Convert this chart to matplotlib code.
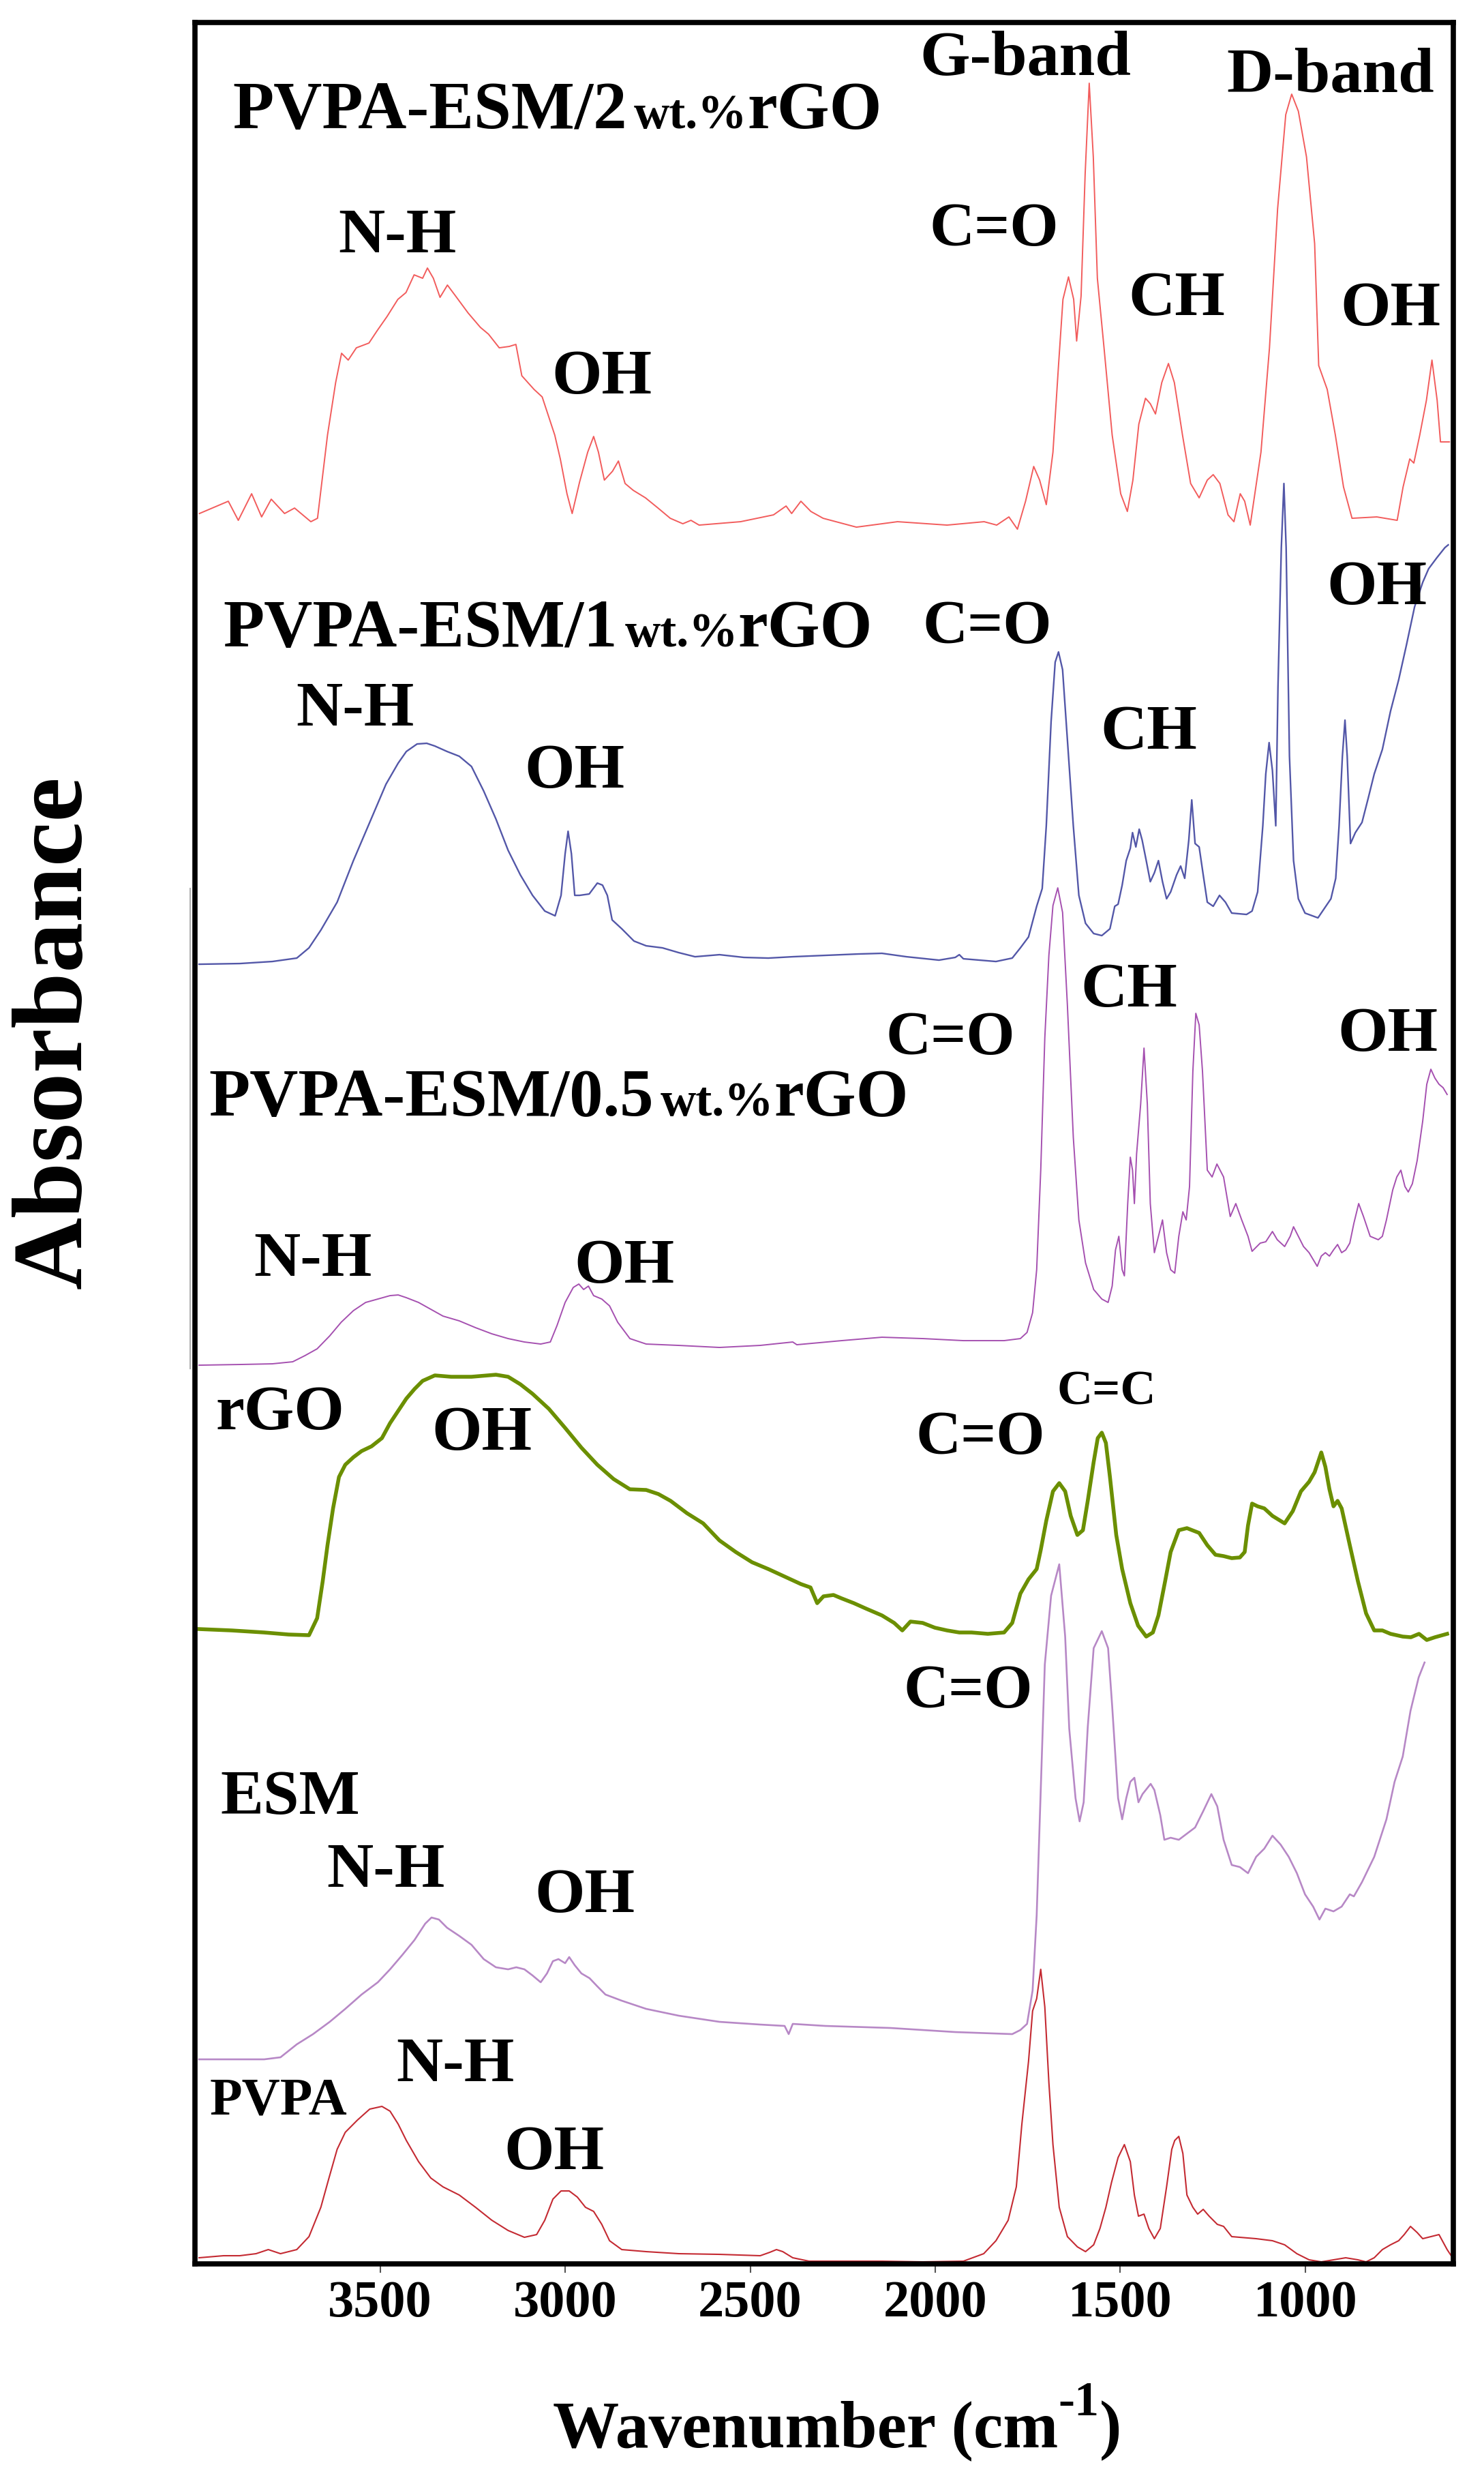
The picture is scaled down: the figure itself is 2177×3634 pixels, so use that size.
import numpy as np
import matplotlib
matplotlib.use("Agg")
import matplotlib.pyplot as plt

plt.rcParams['font.family'] = ['Liberation Serif', 'DejaVu Serif']
plt.rcParams['font.weight'] = 'bold'

# ---------------------------------------------------------------
# FTIR spectra: (wavenumber cm-1, stacked absorbance a.u.)
# ---------------------------------------------------------------
esm2_rgo = [(3988, 25.67), (3910, 25.85), (3883, 25.57), (3847, 25.96), (3820, 25.62), (3794, 25.88),
            (3758, 25.67), (3731, 25.75), (3687, 25.55), (3669, 25.60), (3642, 26.82), (3620, 27.59),
            (3604, 28.02), (3586, 27.92), (3564, 28.10), (3530, 28.17), (3508, 28.35), (3481, 28.56),
            (3452, 28.81), (3430, 28.91), (3408, 29.17), (3385, 29.12), (3372, 29.27), (3356, 29.12),
            (3338, 28.84), (3318, 29.02), (3296, 28.86), (3262, 28.61), (3229, 28.40), (3207, 28.30),
            (3178, 28.10), (3151, 28.12), (3133, 28.15), (3117, 27.69), (3084, 27.49), (3062, 27.38),
            (3028, 26.82), (3013, 26.47), (2995, 25.96), (2981, 25.67), (2961, 26.13), (2939, 26.57),
            (2923, 26.80), (2910, 26.57), (2894, 26.16), (2872, 26.29), (2856, 26.44), (2838, 26.11),
            (2816, 26.01), (2783, 25.90), (2749, 25.75), (2716, 25.60), (2682, 25.52), (2660, 25.57),
            (2638, 25.50), (2526, 25.55), (2437, 25.65), (2403, 25.78), (2388, 25.67), (2363, 25.85),
            (2336, 25.70), (2303, 25.60), (2213, 25.47), (2102, 25.55), (1968, 25.50), (1868, 25.55),
            (1834, 25.50), (1801, 25.62), (1778, 25.44), (1756, 25.85), (1734, 26.36), (1718, 26.16),
            (1700, 25.80), (1682, 26.57), (1667, 27.84), (1655, 28.81), (1640, 29.14), (1626, 28.81),
            (1618, 28.20), (1606, 28.86), (1595, 30.65), (1584, 31.98), (1573, 30.90), (1562, 29.12),
            (1544, 28.10), (1522, 26.82), (1499, 25.96), (1481, 25.70), (1466, 26.16), (1450, 26.98),
            (1432, 27.36), (1419, 27.28), (1405, 27.13), (1388, 27.59), (1370, 27.87), (1354, 27.59),
            (1332, 26.82), (1310, 26.11), (1287, 25.90), (1265, 26.16), (1249, 26.24), (1231, 26.11),
            (1209, 25.65), (1193, 25.55), (1176, 25.96), (1164, 25.85), (1149, 25.50), (1120, 26.57),
            (1097, 28.10), (1075, 30.14), (1053, 31.52), (1037, 31.82), (1019, 31.57), (997, 30.90),
            (975, 29.63), (964, 27.84), (941, 27.49), (919, 26.82), (897, 26.06), (874, 25.60),
            (807, 25.62), (752, 25.57), (736, 26.06), (718, 26.47), (707, 26.41), (691, 26.82),
            (673, 27.33), (658, 27.92), (644, 27.33), (635, 26.72), (611, 26.72)]

esm1_rgo = [(3989, 19.06), (3879, 19.07), (3791, 19.10), (3725, 19.15), (3692, 19.30), (3660, 19.56),
            (3616, 19.97), (3572, 20.58), (3528, 21.14), (3484, 21.70), (3451, 22.01), (3429, 22.18),
            (3400, 22.29), (3374, 22.30), (3352, 22.26), (3319, 22.18), (3286, 22.11), (3253, 21.96),
            (3220, 21.60), (3187, 21.19), (3154, 20.73), (3121, 20.37), (3088, 20.07), (3055, 19.84),
            (3027, 19.77), (3011, 20.07), (3000, 20.68), (2992, 21.01), (2983, 20.68), (2974, 20.07),
            (2961, 20.07), (2935, 20.09), (2913, 20.25), (2899, 20.22), (2886, 20.07), (2873, 19.71),
            (2847, 19.58), (2814, 19.40), (2781, 19.33), (2737, 19.30), (2693, 19.23), (2649, 19.17),
            (2583, 19.20), (2517, 19.16), (2451, 19.15), (2385, 19.17), (2297, 19.19), (2209, 19.21),
            (2144, 19.22), (2078, 19.17), (1990, 19.12), (1946, 19.16), (1935, 19.20), (1924, 19.14),
            (1836, 19.10), (1792, 19.15), (1770, 19.30), (1748, 19.46), (1726, 19.91), (1711, 20.17),
            (1700, 21.09), (1687, 22.62), (1676, 23.49), (1667, 23.64), (1656, 23.38), (1643, 22.36),
            (1627, 21.09), (1612, 20.07), (1594, 19.66), (1572, 19.51), (1550, 19.48), (1528, 19.58),
            (1515, 19.91), (1506, 19.94), (1495, 20.22), (1484, 20.58), (1473, 20.76), (1467, 20.99),
            (1458, 20.78), (1449, 21.04), (1441, 20.88), (1430, 20.58), (1419, 20.27), (1408, 20.40),
            (1397, 20.58), (1386, 20.27), (1375, 20.02), (1364, 20.12), (1348, 20.37), (1337, 20.50),
            (1326, 20.32), (1315, 20.88), (1307, 21.47), (1298, 20.83), (1287, 20.78), (1276, 20.37),
            (1265, 19.97), (1249, 19.91), (1232, 20.07), (1216, 19.97), (1199, 19.81), (1159, 19.79),
            (1144, 19.84), (1129, 20.12), (1115, 21.09), (1107, 21.85), (1098, 22.31), (1089, 21.90),
            (1080, 21.09), (1074, 23.13), (1065, 25.17), (1058, 26.11), (1052, 25.17), (1043, 22.11),
            (1032, 20.58), (1019, 20.02), (1001, 19.81), (966, 19.74), (951, 19.86), (931, 20.02),
            (918, 20.32), (909, 21.09), (900, 22.11), (893, 22.64), (887, 22.11), (878, 20.83),
            (865, 20.99), (847, 21.14), (830, 21.50), (814, 21.85), (792, 22.21), (770, 22.77),
            (748, 23.23), (727, 23.74), (705, 24.30), (683, 24.66), (667, 24.86), (645, 25.02),
            (623, 25.17), (614, 25.21)]

esm05_rgo = [(3989, 13.18), (3879, 13.19), (3791, 13.20), (3736, 13.23), (3703, 13.32), (3670, 13.42),
             (3636, 13.61), (3605, 13.81), (3572, 13.98), (3539, 14.10), (3506, 14.15), (3473, 14.20),
             (3451, 14.21), (3429, 14.17), (3396, 14.10), (3363, 14.00), (3330, 13.90), (3286, 13.83),
             (3242, 13.73), (3198, 13.64), (3154, 13.57), (3110, 13.52), (3066, 13.49), (3040, 13.52),
             (3022, 13.76), (3000, 14.10), (2978, 14.32), (2963, 14.37), (2950, 14.29), (2937, 14.34),
             (2923, 14.20), (2901, 14.15), (2880, 14.05), (2858, 13.81), (2825, 13.57), (2781, 13.49),
             (2693, 13.47), (2583, 13.44), (2473, 13.47), (2385, 13.52), (2374, 13.48), (2253, 13.54),
             (2144, 13.59), (2033, 13.57), (1924, 13.54), (1814, 13.54), (1770, 13.57), (1752, 13.66),
             (1737, 13.95), (1726, 14.58), (1715, 16.04), (1704, 17.98), (1693, 19.19), (1682, 19.92),
             (1669, 20.18), (1656, 19.82), (1643, 18.46), (1627, 16.52), (1612, 15.31), (1594, 14.68),
             (1572, 14.29), (1550, 14.15), (1533, 14.10), (1522, 14.34), (1513, 14.87), (1504, 15.07),
             (1495, 14.58), (1489, 14.49), (1480, 15.55), (1473, 16.23), (1467, 16.04), (1462, 15.55),
             (1456, 16.28), (1445, 17.01), (1436, 17.83), (1427, 17.01), (1419, 15.55), (1408, 14.83),
             (1397, 15.07), (1386, 15.31), (1375, 14.83), (1364, 14.58), (1353, 14.53), (1342, 15.07),
             (1331, 15.43), (1322, 15.31), (1313, 15.80), (1304, 17.49), (1296, 18.34), (1287, 18.17),
             (1278, 17.49), (1265, 16.04), (1252, 15.94), (1239, 16.13), (1221, 15.94), (1203, 15.36),
             (1188, 15.55), (1172, 15.31), (1155, 15.07), (1144, 14.85), (1122, 14.97), (1107, 14.99),
             (1089, 15.14), (1076, 15.02), (1056, 14.92), (1041, 15.07), (1032, 15.21), (1019, 15.07),
             (1005, 14.92), (990, 14.83), (968, 14.63), (957, 14.78), (946, 14.83), (935, 14.78),
             (924, 14.87), (913, 14.95), (902, 14.83), (891, 14.87), (880, 14.97), (869, 15.26),
             (856, 15.55), (843, 15.36), (825, 15.07), (803, 15.02), (792, 15.07), (781, 15.31),
             (764, 15.75), (753, 15.94), (742, 16.04), (731, 15.80), (722, 15.72), (711, 15.84),
             (698, 16.18), (683, 16.76), (672, 17.30), (661, 17.52), (650, 17.39), (639, 17.30),
             (628, 17.25), (617, 17.15)]

rgo = [(3989, 9.31), (3901, 9.29), (3813, 9.26), (3747, 9.23), (3692, 9.22), (3670, 9.47),
       (3655, 10.01), (3642, 10.54), (3627, 11.08), (3611, 11.54), (3594, 11.72), (3572, 11.83),
       (3550, 11.92), (3523, 11.99), (3495, 12.11), (3473, 12.33), (3451, 12.51), (3429, 12.69),
       (3407, 12.83), (3385, 12.95), (3352, 13.03), (3308, 13.01), (3253, 13.01), (3187, 13.04),
       (3154, 13.01), (3121, 12.90), (3088, 12.76), (3044, 12.54), (3000, 12.26), (2956, 11.97),
       (2913, 11.72), (2869, 11.51), (2825, 11.36), (2781, 11.35), (2748, 11.29), (2715, 11.19),
       (2671, 11.01), (2627, 10.86), (2583, 10.61), (2539, 10.44), (2495, 10.29), (2451, 10.19),
       (2407, 10.08), (2363, 9.97), (2337, 9.92), (2319, 9.69), (2302, 9.79), (2275, 9.81),
       (2253, 9.76), (2220, 9.69), (2187, 9.61), (2144, 9.51), (2111, 9.40), (2089, 9.29),
       (2067, 9.42), (2034, 9.40), (2001, 9.33), (1968, 9.29), (1935, 9.26), (1902, 9.26),
       (1858, 9.24), (1814, 9.26), (1792, 9.40), (1770, 9.83), (1748, 10.04), (1726, 10.19),
       (1715, 10.47), (1700, 10.90), (1682, 11.33), (1665, 11.45), (1649, 11.33), (1634, 10.97),
       (1616, 10.69), (1601, 10.76), (1588, 11.19), (1572, 11.76), (1561, 12.11), (1550, 12.19),
       (1539, 12.04), (1528, 11.54), (1511, 10.69), (1495, 10.19), (1473, 9.69), (1452, 9.36),
       (1430, 9.20), (1412, 9.26), (1397, 9.51), (1379, 10.01), (1364, 10.44), (1342, 10.76),
       (1320, 10.79), (1287, 10.72), (1265, 10.54), (1243, 10.40), (1221, 10.38), (1199, 10.35),
       (1177, 10.36), (1164, 10.44), (1155, 10.83), (1144, 11.15), (1129, 11.11), (1111, 11.08),
       (1089, 10.97), (1056, 10.86), (1034, 11.04), (1012, 11.33), (990, 11.47), (975, 11.61),
       (957, 11.90), (946, 11.69), (935, 11.36), (924, 11.11), (913, 11.19), (902, 11.08),
       (880, 10.54), (858, 10.01), (836, 9.54), (814, 9.29), (792, 9.29), (770, 9.24),
       (737, 9.20), (715, 9.19), (693, 9.24), (672, 9.15), (650, 9.19), (617, 9.24)]

esm = [(3989, 3.00), (3813, 3.00), (3769, 3.03), (3725, 3.22), (3681, 3.37), (3636, 3.55),
       (3594, 3.74), (3550, 3.95), (3506, 4.13), (3473, 4.32), (3440, 4.53), (3407, 4.75),
       (3378, 4.99), (3361, 5.08), (3341, 5.05), (3319, 4.93), (3286, 4.81), (3253, 4.68),
       (3220, 4.47), (3187, 4.35), (3154, 4.32), (3132, 4.35), (3110, 4.32), (3088, 4.23),
       (3066, 4.13), (3049, 4.26), (3033, 4.44), (3018, 4.47), (3000, 4.41), (2989, 4.50),
       (2974, 4.38), (2956, 4.26), (2934, 4.19), (2913, 4.07), (2891, 3.95), (2847, 3.86),
       (2781, 3.74), (2693, 3.64), (2583, 3.55), (2473, 3.51), (2407, 3.49), (2396, 3.37),
       (2385, 3.52), (2297, 3.49), (2121, 3.46), (1946, 3.40), (1792, 3.37), (1770, 3.43),
       (1752, 3.52), (1737, 4.01), (1726, 5.11), (1715, 6.95), (1704, 8.79), (1687, 9.80),
       (1665, 10.26), (1649, 9.20), (1638, 7.85), (1621, 6.83), (1610, 6.49), (1599, 6.77),
       (1588, 7.87), (1572, 9.03), (1550, 9.28), (1533, 9.03), (1522, 8.18), (1506, 6.83),
       (1495, 6.52), (1484, 6.83), (1473, 7.07), (1462, 7.13), (1451, 6.77), (1440, 6.89),
       (1418, 7.04), (1408, 6.95), (1392, 6.58), (1381, 6.22), (1364, 6.25), (1342, 6.22),
       (1320, 6.31), (1298, 6.40), (1276, 6.64), (1254, 6.89), (1238, 6.71), (1221, 6.22),
       (1199, 5.85), (1177, 5.82), (1155, 5.73), (1133, 5.97), (1111, 6.09), (1089, 6.28),
       (1067, 6.15), (1045, 5.97), (1023, 5.73), (1001, 5.42), (979, 5.24), (962, 5.05),
       (946, 5.21), (924, 5.17), (902, 5.24), (880, 5.42), (869, 5.39), (847, 5.60),
       (814, 5.97), (781, 6.52), (759, 7.07), (737, 7.44), (716, 8.11), (694, 8.60), (678, 8.82)]

pvpa = [(3989, 0.09), (3923, 0.12), (3879, 0.12), (3835, 0.15), (3802, 0.21), (3769, 0.15),
        (3725, 0.21), (3692, 0.40), (3660, 0.83), (3638, 1.26), (3616, 1.68), (3594, 1.93),
        (3561, 2.11), (3528, 2.27), (3495, 2.31), (3473, 2.24), (3451, 2.05), (3429, 1.81),
        (3396, 1.50), (3363, 1.26), (3330, 1.13), (3286, 1.01), (3242, 0.83), (3198, 0.64),
        (3154, 0.49), (3110, 0.39), (3077, 0.43), (3055, 0.64), (3033, 0.95), (3011, 1.07),
        (2989, 1.07), (2967, 0.98), (2945, 0.83), (2923, 0.77), (2901, 0.58), (2880, 0.34),
        (2847, 0.21), (2781, 0.18), (2693, 0.15), (2583, 0.14), (2473, 0.12), (2447, 0.17),
        (2429, 0.21), (2412, 0.18), (2385, 0.09), (2341, 0.04), (2144, 0.04), (2034, 0.03),
        (1924, 0.04), (1869, 0.15), (1836, 0.34), (1803, 0.64), (1781, 1.13), (1766, 2.05),
        (1748, 2.97), (1737, 3.71), (1726, 3.89), (1715, 4.32), (1704, 3.77), (1693, 2.66),
        (1682, 1.75), (1665, 0.83), (1643, 0.40), (1616, 0.25), (1594, 0.18), (1572, 0.28),
        (1555, 0.52), (1539, 0.83), (1524, 1.19), (1506, 1.56), (1489, 1.75), (1473, 1.50),
        (1462, 1.01), (1451, 0.70), (1436, 0.73), (1423, 0.52), (1408, 0.37), (1392, 0.52),
        (1375, 1.13), (1361, 1.68), (1353, 1.81), (1342, 1.87), (1331, 1.62), (1320, 1.01),
        (1304, 0.83), (1291, 0.73), (1276, 0.80), (1260, 0.70), (1238, 0.58), (1221, 0.55),
        (1199, 0.40), (1133, 0.37), (1089, 0.34), (1056, 0.28), (1023, 0.15), (990, 0.06),
        (957, 0.03), (924, 0.06), (891, 0.09), (858, 0.06), (836, 0.03), (814, 0.09),
        (792, 0.21), (770, 0.28), (748, 0.34), (733, 0.43), (716, 0.55), (698, 0.46),
        (683, 0.37), (661, 0.40), (639, 0.43), (617, 0.21), (606, 0.12)]

tick_values = [3500, 3000, 2500, 2000, 1500, 1000]

# spectrum -> (colour, line width)
spectra = [
    (esm2_rgo, '#f25c5c', 1.4),
    (esm1_rgo, '#5357a8', 1.7),
    (esm05_rgo, '#a550b0', 1.4),
    (rgo, '#6b8f00', 4.0),
    (esm, '#b788c6', 1.9),
    (pvpa, '#c42a32', 1.5),
]

# peak / band labels: text, wavenumber (centre), baseline, size
peak_labels = [
    ("G-band", 1756, 32.10, 68), ("D-band", 933, 31.85, 68), ("N-H", 3453, 29.50, 68),
    ("C=O", 1841, 29.60, 66), ("CH", 1348, 28.58, 68), ("OH", 769, 28.43, 68), ("OH", 2900, 27.43, 68),
    ("C=O", 1860, 23.77, 66), ("OH", 806, 24.34, 68), ("N-H", 3567, 22.56, 68),
    ("OH", 2974, 21.65, 68), ("CH", 1423, 22.22, 68),
    ("CH", 1477, 18.44, 68), ("C=O", 1959, 17.74, 66), ("OH", 778, 17.79, 68),
    ("N-H", 3681, 14.49, 68), ("OH", 2840, 14.39, 68),
    ("rGO", 3770, 12.24, 68), ("OH", 3225, 11.94, 68), ("C=O", 1878, 11.88, 66), ("C=C", 1537, 12.61, 52),
    ("C=O", 1911, 8.16, 66), ("ESM", 3742, 6.60, 68), ("N-H", 3484, 5.53, 68), ("OH", 2946, 5.16, 68),
    ("PVPA", 3775, 2.20, 56), ("N-H", 3297, 2.68, 68), ("OH", 3029, 1.39, 68),
]

# sample names with the smaller "wt.%" part: left wavenumber, baseline, number
sample_names = [(3899, 31.32, "2"), (3923, 23.72, "1"), (3963, 16.84, "0.5")]

# ---------------------------------------------------------------
fig = plt.figure(figsize=(21.77, 36.34), dpi=100)
ax = fig.add_axes([0.1314, 0.0864, 0.8480, 0.9045])

for data, color, lw in spectra:
    wn, a = np.array(data).T
    ax.plot(wn, a, color=color, lw=lw, solid_joinstyle='round')

ax.set_xlim(4000, 600)
ax.set_ylim(0, 32.87)
ax.set_yticks([])
ax.set_xticks(tick_values)
ax.set_xticklabels([str(v) for v in tick_values], fontsize=55, fontweight='bold')
ax.tick_params(axis='x', direction='out', length=9, width=1.5, color='#555555', pad=8)
for sp in ax.spines.values():
    sp.set_linewidth(5.5)

# faint leftover axis line from the original composite
ax.plot([-0.004, -0.004], [13.13, 20.17], color='#b0b0b0', lw=1.5,
        transform=ax.get_yaxis_transform(), clip_on=False)

for txt, x, y, size in peak_labels:
    ax.text(x, y, txt, fontsize=size, fontweight='bold', ha='center', va='baseline')

fig.canvas.draw()
renderer = fig.canvas.get_renderer()
inv = ax.transData.inverted()
for x0, y0, num in sample_names:
    x = x0
    for s, size, gap in [("PVPA-ESM/" + num, 71, 10), ("wt.%", 52, 0), ("rGO", 71, 0)]:
        t = ax.text(x, y0, s, fontsize=size, fontweight='bold', ha='left', va='baseline')
        bb = t.get_window_extent(renderer)
        x = inv.transform((bb.x1 + gap, bb.y0))[0]

fig.text(0.0381, 0.5834, "Absorbance", fontsize=106, fontweight='bold',
         rotation=90, ha='center', va='center')

# x label with a raised "-1", centred under the plot
W, H = fig.bbox.width, fig.bbox.height
base_px = H - 3588
parts = [("Wavenumber (cm", 70, 0), ("-1", 52, 46), (")", 70, 0)]
texts = [fig.text(0, (base_px + dy) / H, s, fontsize=size, fontweight='bold',
                  ha='left', va='baseline') for s, size, dy in parts]
widths = [t.get_window_extent(renderer).width for t in texts]
x_px = 1228 - sum(widths) / 2
for t, w in zip(texts, widths):
    t.set_x(x_px / W)
    x_px += w

fig.savefig('out.png', dpi=100)
plt.close(fig)
